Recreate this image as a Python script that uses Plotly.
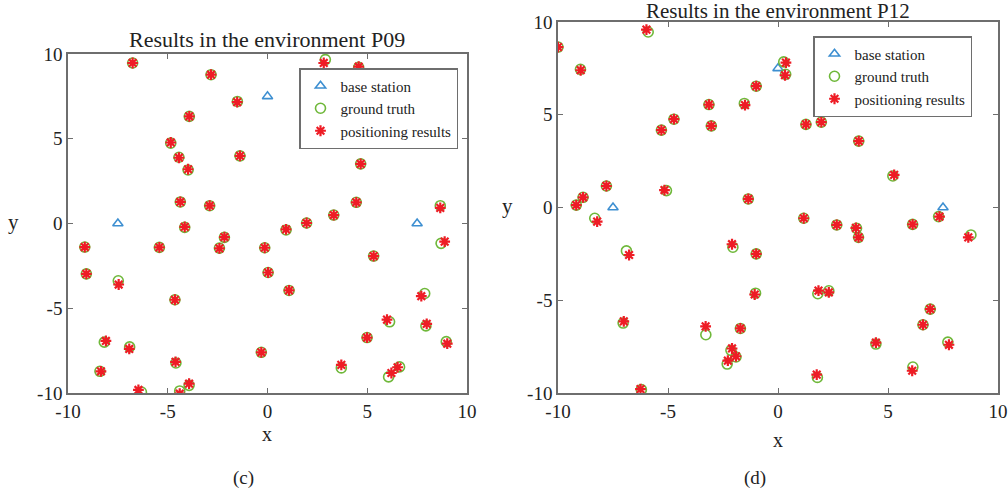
import plotly.graph_objects as go

# ---------------- data: environment P09 ----------------
p09_bs_x = [-7.5, 0.0, 7.5]
p09_bs_y = [0.0, 7.5, 0.0]

p09_gt_x = [-6.76, -2.83, -1.51, -3.92, -4.85, -4.44, -3.98, -1.38, -4.37, -2.90,
            -4.15, -2.16, -2.41, -5.42, -9.16, -9.08, -7.48, -4.64, -0.14, 0.03,
            0.93, 1.96, 3.32, 4.45, 4.67, 2.90, 4.57, 1.08, 5.32, 8.66,
            8.70, 7.88, 6.12, 7.94, 4.99, 8.96, 6.62, 6.07, 3.70, -0.31,
            -4.59, -3.93, -4.40, -6.32, -8.40, -8.18, -6.91]
p09_gt_y = [9.47, 8.78, 7.20, 6.32, 4.74, 3.91, 3.16, 3.99, 1.27, 1.05,
            -0.23, -0.82, -1.45, -1.41, -1.39, -2.97, -3.38, -4.50, -1.43, -2.89,
            -0.38, 0.03, 0.50, 1.25, 3.52, 9.67, 9.21, -3.95, -1.92, 1.05,
            -1.17, -4.13, -5.80, -6.04, -6.73, -6.97, -8.46, -9.05, -8.52, -7.60,
            -8.23, -9.55, -9.88, -9.94, -8.72, -7.00, -7.28]
p09_est_x = [-6.76, -2.83, -1.52, -3.92, -4.85, -4.44, -3.98, -1.38, -4.37, -2.90,
             -4.15, -2.16, -2.41, -5.42, -9.16, -9.08, -7.46, -4.64, -0.14, 0.03,
             0.93, 1.96, 3.32, 4.45, 4.67, 2.82, 4.57, 1.08, 5.32, 8.66,
             8.88, 7.71, 5.99, 7.98, 4.99, 9.01, 6.52, 6.21, 3.70, -0.31,
             -4.61, -3.93, -4.40, -6.47, -8.35, -8.10, -6.93]
p09_est_y = [9.47, 8.78, 7.16, 6.32, 4.78, 3.88, 3.20, 3.99, 1.27, 1.05,
             -0.20, -0.80, -1.47, -1.41, -1.39, -2.97, -3.60, -4.50, -1.43, -2.89,
             -0.35, 0.03, 0.50, 1.25, 3.52, 9.47, 9.25, -3.95, -1.92, 0.92,
             -1.07, -4.29, -5.67, -5.92, -6.73, -7.09, -8.48, -8.82, -8.34, -7.60,
             -8.16, -9.45, -10.04, -9.82, -8.72, -6.93, -7.40]

# ---------------- data: environment P12 ----------------
p12_bs_x = [-7.5, 0.0, 7.5]
p12_bs_y = [0.0, 7.5, 0.0]

p12_gt_x = [-10.0, -8.98, -5.90, -9.17, -8.86, -7.80, -8.33, -6.89, -7.04, -6.21,
            -5.30, -4.73, -5.07, -3.14, -3.03, -1.53, -0.99, -1.35, -2.05, -0.99,
            -1.02, -3.28, -1.71, -2.14, -1.91, -2.31, 0.26, 0.35, 1.27, 1.97,
            3.67, 5.22, 1.17, 2.67, 3.57, 3.66, 6.12, 7.30, 8.77, 1.81,
            2.31, 6.92, 6.59, 4.45, 7.72, 6.13, 1.79, 7.55]
p12_gt_y = [8.65, 7.45, 9.46, 0.13, 0.55, 1.16, -0.58, -2.34, -6.23, -9.82,
            4.17, 4.76, 0.91, 5.55, 4.40, 5.61, 6.54, 0.46, -2.14, -2.50,
            -4.62, -6.86, -6.52, -7.70, -8.06, -8.44, 7.85, 7.18, 4.48, 4.60,
            3.58, 1.70, -0.58, -0.94, -1.12, -1.61, -0.91, -0.49, -1.48, -4.65,
            -4.49, -5.48, -6.32, -7.36, -7.26, -8.60, -9.16, 5.30]
p12_est_x = [-10.0, -8.97, -5.98, -9.17, -8.86, -7.80, -8.22, -6.77, -7.01, -6.25,
             -5.30, -4.73, -5.16, -3.14, -3.03, -1.50, -0.99, -1.35, -2.09, -0.99,
             -1.06, -3.29, -1.71, -2.09, -1.91, -2.28, 0.36, 0.32, 1.27, 1.97,
             3.67, 5.28, 1.17, 2.67, 3.54, 3.66, 6.12, 7.34, 8.65, 1.84,
             2.31, 6.92, 6.59, 4.45, 7.77, 6.10, 1.76, 7.53]
p12_est_y = [8.65, 7.40, 9.59, 0.13, 0.55, 1.16, -0.76, -2.56, -6.14, -9.79,
             4.17, 4.76, 0.94, 5.55, 4.40, 5.52, 6.54, 0.46, -1.98, -2.50,
             -4.69, -6.41, -6.52, -7.60, -8.02, -8.26, 7.81, 7.13, 4.48, 4.60,
             3.58, 1.76, -0.58, -0.94, -1.10, -1.61, -0.91, -0.49, -1.61, -4.48,
             -4.58, -5.48, -6.32, -7.28, -7.40, -8.80, -9.01, 5.28]

tick_vals = [-10, -5, 0, 5, 10]
tick_text = ["-10", "-5", "0", "5", "10"]

BLUE = "#3d8fd1"
GREEN = "#6fb83a"
RED = "#ee1c25"
AXC = "#6e6e6e"
TXT = "#222222"
FONT = "Liberation Serif"

fig = go.Figure()


def add_env(xa, ya, legend, bsx, bsy, gtx, gty, esx, esy):
    fig.add_trace(go.Scatter(x=bsx, y=bsy, mode="markers", name="base station",
                             xaxis=xa, yaxis=ya, legend=legend,
                             marker=dict(symbol="triangle-up-open", size=9,
                                         color=BLUE, line=dict(width=1.6, color=BLUE))))
    fig.add_trace(go.Scatter(x=gtx, y=gty, mode="markers", name="ground truth",
                             xaxis=xa, yaxis=ya, legend=legend,
                             marker=dict(symbol="circle-open", size=10,
                                         color=GREEN, line=dict(width=1.6, color=GREEN))))
    fig.add_trace(go.Scatter(x=esx, y=esy, mode="markers", name="positioning results",
                             xaxis=xa, yaxis=ya, legend=legend,
                             marker=dict(symbol="asterisk-open", size=9,
                                         color=RED, line=dict(width=2.2, color=RED))))


add_env("x", "y", "legend", p09_bs_x, p09_bs_y, p09_gt_x, p09_gt_y, p09_est_x, p09_est_y)
add_env("x2", "y2", "legend2", p12_bs_x, p12_bs_y, p12_gt_x, p12_gt_y, p12_est_x, p12_est_y)

W, H = 1008, 494


def fx(px):
    return px / W


def fy(py):
    return (H - py) / H


axis_common = dict(range=[-10, 10], tickvals=tick_vals, ticktext=tick_text,
                   showgrid=False, zeroline=False, showline=True, linecolor=AXC,
                   linewidth=1.5, mirror="allticks", ticks="inside", ticklen=5,
                   tickcolor=AXC, tickwidth=1.2, automargin=False,
                   tickfont=dict(family=FONT, size=19, color=TXT))

legend_common = dict(xanchor="left", yanchor="top", bgcolor="white",
                     bordercolor=AXC, borderwidth=1.5, tracegroupgap=0,
                     itemwidth=30, font=dict(family=FONT, size=15, color=TXT))

fig.update_layout(
    template="none",
    width=W, height=H,
    margin=dict(l=0, r=0, t=0, b=0, pad=0, autoexpand=False),
    paper_bgcolor="white", plot_bgcolor="white",
    font=dict(family=FONT, size=18, color=TXT),
    xaxis=dict(domain=[fx(68), fx(467)], anchor="y", **axis_common),
    yaxis=dict(domain=[fy(393), fy(54)], anchor="x", **axis_common),
    xaxis2=dict(domain=[fx(558), fx(998)], anchor="y2", **axis_common),
    yaxis2=dict(domain=[fy(393), fy(22)], anchor="x2", **axis_common),
    legend=dict(x=fx(299), y=fy(68), **legend_common),
    legend2=dict(x=fx(813), y=fy(36), **legend_common),
    showlegend=True,
)

ann = [
    ("Results in the environment P09", 267, 40, 22),
    ("Results in the environment P12", 778, 11, 21),
    ("x", 267, 434, 20),
    ("x", 778, 440, 20),
    ("y", 13, 222, 21),
    ("y", 507, 206, 21),
    ("(c)", 243, 478, 19),
    ("(d)", 755, 478, 19),
]
for text, px, py, sz in ann:
    fig.add_annotation(text=text, x=fx(px), y=fy(py), xref="paper", yref="paper",
                       xanchor="center", yanchor="middle", showarrow=False,
                       font=dict(family=FONT, size=sz, color=TXT))

fig.write_html("out.html")
